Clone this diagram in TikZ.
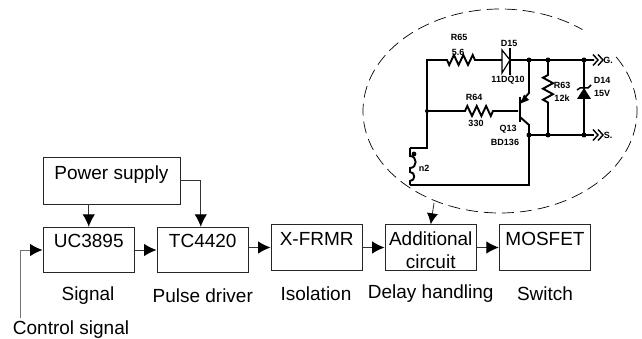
\documentclass[tikz,border=0pt]{standalone}
\usepackage{fontspec}
\setmainfont{Liberation Sans}
\usetikzlibrary{arrows.meta}

\tikzset{
  block/.style={draw=black!85,line width=0.9pt,minimum width=91.5pt,minimum height=45.5pt,inner sep=0pt},
  blocktext/.style={font=\fontsize{19}{20}\selectfont,inner sep=0pt,anchor=base},
  caption/.style={font=\fontsize{19}{20}\selectfont,inner sep=0pt},
  link/.style={line width=1pt,black!80,-{Latex[black,length=12.5pt,width=12.5pt]}},
  wire/.style={line width=1.9pt,black,line join=miter},
  part/.style={font=\bfseries\fontsize{9}{10}\selectfont,inner sep=0pt},
  pin/.style={fill=black,circle,inner sep=0pt,minimum size=5pt}
}

\begin{document}
\begin{tikzpicture}[x=1pt,y=-1pt]
  \useasboundingbox (0,0) rectangle (642,339);

%% blocks
  \node [block,minimum width=137pt,minimum height=47pt] (ps) at (111.5,180.5) {};
  \node [block] (uc)  at (88.75,250)  {};
  \node [block] (tc)  at (202.75,250) {};
  \node [block] (xf)  at (316.75,247.5) {};
  \node [block] (add) at (430.75,247.5) {};
  \node [block] (mos) at (545,247.5) {};

%% block texts
  \node [blocktext] (pst) at (111.5,179.5) {Power supply};
  \node [blocktext] (uct) at (88.75,247.5) {UC3895};
  \node [blocktext] (tct) at (202.75,247.5) {TC4420};
  \node [blocktext] (xft) at (316.75,245.5) {X-FRMR};
  \node [blocktext] (addt) at (430.75,245.5) {Additional};
  \node [blocktext] (addu) at (430.75,268.5) {circuit};
  \node [blocktext] (most) at (545,245.5) {MOSFET};

%% captions
  \node [caption] (sig) at (88,296)    {Signal};
  \node [caption] (pul) at (202.75,296) {Pulse driver};
  \node [caption] (iso) at (316,294)   {Isolation};
  \node [caption] (del) at (430.75,294) {Delay handling};
  \node [caption] (swi) at (545,294)   {Switch};
  \node [caption] (ctl) at (71,330)    {Control signal};

%% connections
  \coordinate (pse) at (180,181);
  \coordinate (ctlup) at (20,318);
  \coordinate (halo) at (434,203);
  \draw [link] (uc.north |- ps.south) -- (uc.north);
  \draw [link] (pse) -| ([xshift=-2]tc.north);
  \draw [link,black!55] (ctlup) |- (uc.west);
  \draw [link] (uc.east) -- (tc.west);
  \draw [link] (xf.west -| tc.east) -- (xf.west);
  \draw [link] (xf.east) -- (add.west);
  \draw [link] (add.east) -- (mos.west);
  \draw [link,line width=0.8pt,-{Latex[black,length=11pt,width=11pt]}] (halo) -- (add.north);

%% dashed outline
  \draw [line width=0.7pt,dash pattern=on 12pt off 6pt]
    plot [domain=-32:307,samples=120,smooth] ({500+137*cos(\x)},{111+102*sin(\x)});

%% circuit
  \coordinate (tl) at (427,60);
  \coordinate (ml) at (427,111);
  \coordinate (tq) at (529,60);
  \coordinate (tr) at (548,60);
  \coordinate (tz) at (584,60);
  \coordinate (gg) at (594,60);
  \coordinate (bq) at (529,135);
  \coordinate (br) at (548,135);
  \coordinate (bz) at (584,135);
  \coordinate (ss) at (594,135);

  \draw [wire] (gg) -- (510,60) (502,60) -- (475,60)
    -- ++(-2.3,-5) -- ++(-4.7,10) -- ++(-4.7,-10) -- ++(-4.7,10) -- ++(-4.7,-10) -- ++(-4.7,10) -- (447,60) -- (tl) -- (427,148) -- (410,148);
  \draw [wire] (ml) -- (465,111) -- ++(2.3,-5) -- ++(4.7,10) -- ++(4.7,-10) -- ++(4.7,10) -- ++(4.7,-10) -- ++(4.7,10) -- (493,111) -- (518,111);
  \draw [wire] (tr) -- (548,75) -- ++(-5,2.7) -- ++(10,5.5) -- ++(-10,5.5) -- ++(10,5.5) -- ++(-10,5.5) -- ++(5,2.8) -- (br);
  \draw [wire] (tz) -- (bz);
  \draw [wire] (ss) -- (bq) -- (529,185) -- (410,185);
  \draw [wire] (tq) -- (529,93) -- (520,103);
  \draw [wire] (520,117) -- (529,125) -- (bq);
  \draw [line width=2.3pt] (520,97) -- (520,122);

%% diodes and arrow
  \draw [line width=1.2pt,line join=miter] (502,50) -- (510,60) -- (502,73) -- cycle;
  \draw [line width=1.8pt] (510,48) -- (510,75);
  \fill (584,88) -- (591,99) -- (577,99) -- cycle;
  \draw [line width=1.5pt] (577,90) -- (580,88) -- (588,88) -- (591,85);
  \fill (520.5,103.5) -- (524,94.5) -- (529,100) -- cycle;

%% coil
  \draw [wire] (410,148) -- (410,156) to [out=0,in=0,looseness=1.6] (410,168) -- (410,172)
    to [out=0,in=0,looseness=1.6] (410,181) -- (410,185);
  \fill (414,154) circle (2.4pt);

%% chevrons
  \draw [wire,line width=1.4pt] (593,54.5) -- (598,60) -- (593,65.5) (598,54.5) -- (603,60) -- (598,65.5);
  \draw [wire,line width=1.4pt] (593,129.5) -- (598,135) -- (593,140.5) (598,129.5) -- (603,135) -- (598,140.5);

%% junctions
  \node [pin] (p1) at (tq) {};
  \node [pin] (p2) at (tr) {};
  \node [pin] (p3) at (tz) {};
  \node [pin] (p4) at (bq) {};
  \node [pin] (p5) at (br) {};
  \node [pin] (p6) at (bz) {};
  \node [pin,minimum size=4pt] (p7) at (ml) {};

%% part labels
  \node [part] (r65) at (459,37)  {R65};
  \node [part] (r65v) at (458,52) {5.6};
  \node [part] (d15) at (509,43)  {D15};
  \node [part] (d15v) at (508,80) {11DQ10};
  \node [part] (r63) at (562,85)  {R63};
  \node [part] (r63v) at (562,98) {12k};
  \node [part] (d14) at (602,80)  {D14};
  \node [part] (d14v) at (602,93) {15V};
  \node [part] (r64) at (474,97)  {R64};
  \node [part] (r64v) at (476,123) {330};
  \node [part] (q13) at (508,129) {Q13};
  \node [part] (q13v) at (505,142) {BD136};
  \node [part] (n2) at (424,168)  {n2};
  \node [part] (gl) at (608,60)   {G.};
  \node [part] (sl) at (608,135)  {S.};
\end{tikzpicture}
\end{document}
